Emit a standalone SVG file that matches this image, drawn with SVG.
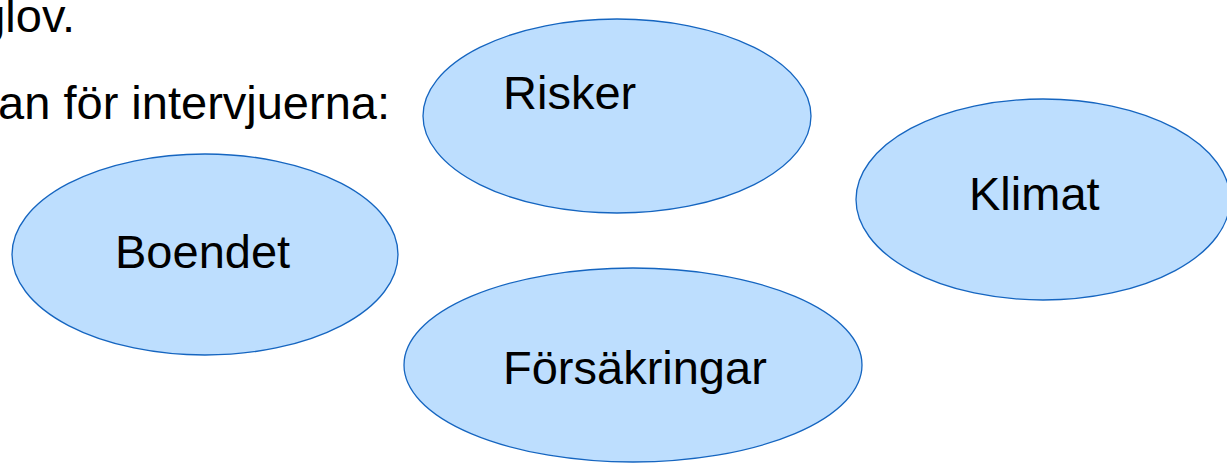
<svg xmlns="http://www.w3.org/2000/svg" width="1227" height="463" viewBox="0 0 1227 463">
<style>
.node ellipse{fill:#BDDEFE;stroke:#1565C0;stroke-width:1.3}
text{font-family:"Liberation Sans",Arial,sans-serif;font-size:47px;fill:#000}
</style>
<rect width="1227" height="463" fill="#fff"/>
<text x="75" y="32" text-anchor="end">glov.</text>
<text x="390" y="119" text-anchor="end">an för intervjuerna:</text>
<g id="connectors"></g>
<g id="risker" class="node">
<ellipse cx="617" cy="116" rx="194" ry="97"/>
<text x="503" y="109">Risker</text>
</g>
<g id="klimat" class="node">
<ellipse cx="1043" cy="199.5" rx="187" ry="100.5"/>
<text x="969" y="210">Klimat</text>
</g>
<g id="boendet" class="node">
<ellipse cx="205" cy="254.5" rx="193" ry="100.5"/>
<text x="115" y="268">Boendet</text>
</g>
<g id="forsakringar" class="node">
<ellipse cx="633" cy="365" rx="229" ry="97"/>
<text x="503" y="384">Försäkringar</text>
</g>
</svg>
